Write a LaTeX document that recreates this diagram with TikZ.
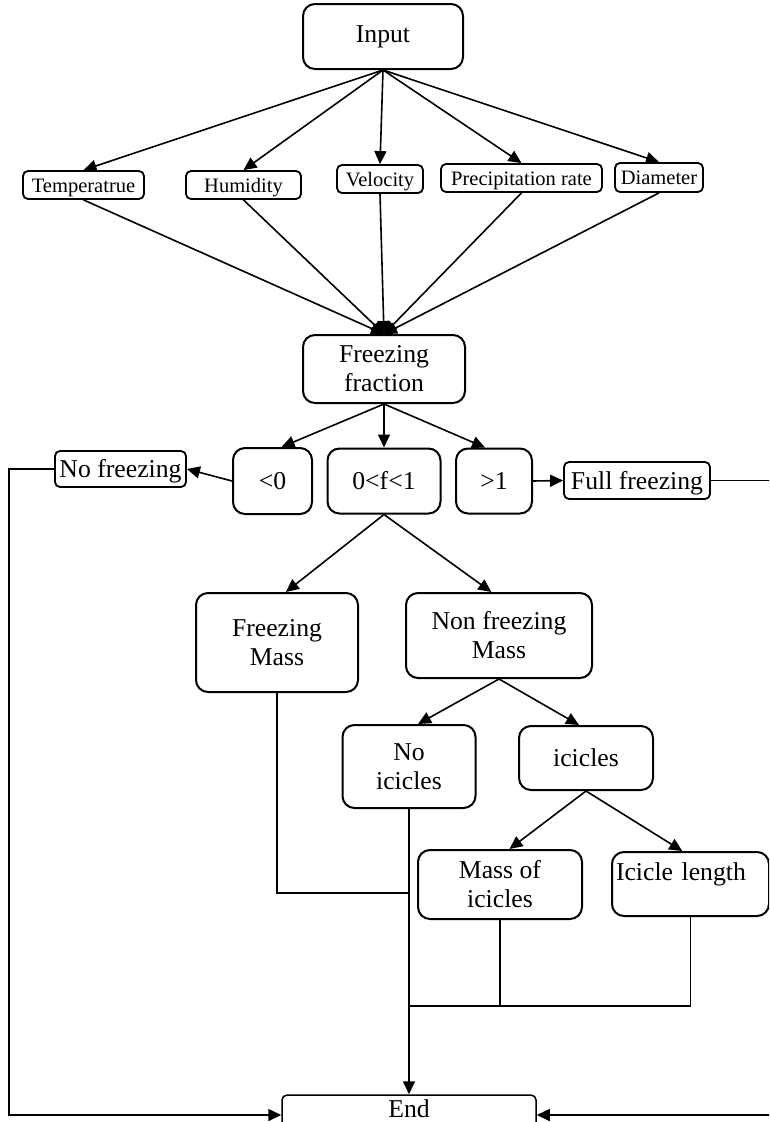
\documentclass[tikz,border=0pt]{standalone}
\usepackage{fontspec}
\setmainfont{Liberation Serif}
\usetikzlibrary{arrows.meta}

\begin{document}
\begin{tikzpicture}[x=1pt,y=-1pt,
  bigbox/.style={draw,line width=2pt,rounded corners=12pt,align=center,inner sep=2pt,font=\fontsize{25.7}{29}\selectfont},
  tagbox/.style={draw,line width=1.8pt,rounded corners=5pt,inner sep=1pt,text height=14pt,text depth=0pt,font=\fontsize{20.5}{24}\selectfont},
  flagbox/.style={tagbox,text height=17pt,font=\fontsize{25.7}{29}\selectfont},
  link/.style={line width=1.6pt,-{Triangle[length=13pt,width=12pt]}},
  wire/.style={line width=1.3pt}]
  \useasboundingbox (0,0) rectangle (769,1122);
  \clip (0,0) rectangle (769,1122);

  % input and its parameters
  \node (input) at (383,36.5) [bigbox, minimum width=160pt, minimum height=65pt] {Input};
  \node (temp) at (83.5,185) [tagbox, minimum width=121pt, minimum height=28pt] {Temperatrue};
  \node (humid) at (243.5,185) [tagbox, minimum width=115pt, minimum height=28pt] {Humidity};
  \node (velo) at (380,179) [tagbox, minimum width=86pt, minimum height=28pt] {Velocity};
  \node (precip) at (521.5,178) [tagbox, minimum width=161pt, minimum height=28pt] {Precipitation rate};
  \node (diam) at (659,177.5) [tagbox, minimum width=88pt, minimum height=29pt] {Diameter};

  \node (ffrac) at (384,369) [bigbox, minimum width=162pt, minimum height=68pt] {Freezing\\fraction};

  % ranges of f
  \node (neg) at (272.5,481) [bigbox, minimum width=79pt, minimum height=66pt] {<0};
  \node (mid) at (384,481) [bigbox, minimum width=113pt, minimum height=65pt] {0<f<1};
  \node (pos) at (494,481) [bigbox, minimum width=76pt, minimum height=65pt] {>1};
  \node (nofr) at (120.5,469) [flagbox, minimum width=131pt, minimum height=36pt] {No freezing};
  \node (full) at (637,480.5) [flagbox, minimum width=146pt, minimum height=37pt] {Full freezing};

  % partial freezing
  \node (fmass) at (277,642.5) [bigbox, minimum width=162pt, minimum height=99pt] {Freezing\\Mass};
  \node (nfmass) at (499,635.5) [bigbox, minimum width=186pt, minimum height=85pt] {Non freezing\\Mass};
  \node (noice) at (409,766.5) [bigbox, minimum width=133pt, minimum height=83pt] {No\\icicles};
  \node (ice) at (586,758) [bigbox, minimum width=134pt, minimum height=64pt] {icicles};
  \node (massice) at (500,884.5) [bigbox, minimum width=164pt, minimum height=69pt] {Mass of\\icicles};
  \node (len) at (690.5,884) [bigbox, minimum width=157pt, minimum height=64pt, align=left, text width=149pt, text height=24pt, text depth=32pt] {Icicle length};

  \node (endn) at (409,1115) [bigbox, line width=1.5pt, rounded corners=5pt, minimum width=254pt, minimum height=40pt, text depth=12pt] {End};

  % arrows
  \draw [link] (input.south) -- (temp.north);
  \draw [link] (input.south) -- (humid.north);
  \draw [link] (input.south) -- (velo.north);
  \draw [link] (input.south) -- (precip.north);
  \draw [link] (input.south) -- (diam.north);
  \draw [link] (temp.south) -- (ffrac.north);
  \draw [link] (humid.south) -- (ffrac.north);
  \draw [link] (velo.south) -- (ffrac.north);
  \draw [link] (precip.south) -- (ffrac.north);
  \draw [link] (diam.south) -- (ffrac.north);

  \draw [link] (ffrac.south) -- (neg.75);
  \draw [link] (ffrac.south) -- (mid.north);
  \draw [link] (ffrac.south) -- (pos.105);
  \draw [link] (neg.west) -- (nofr.east);
  \draw [link] (pos.east) -- (full.west);

  \draw [link] (mid.south) -- (fmass.80);
  \draw [link] (mid.south) -- (nfmass.100);
  \draw [link] (nfmass.south) -- (noice.78);
  \draw [link] (nfmass.south) -- (ice.102);
  \draw [link] (ice.south) -- (massice.75);
  \draw [link] (ice.south) -- (len.104);

  % lines to the end
  \coordinate (j1) at (409,893);
  \coordinate (j2) at (409,1006);
  \coordinate (l1) at (9,1115);
  \coordinate (r1) at (775,1115);
  \draw [wire] (fmass.south) |- (j1);
  \draw [wire] (massice.south) |- (j2);
  \draw [wire] (len.south) |- (j2);
  \draw [link] (noice.south) -- (endn.north);
  \draw [link] (nofr.west) -| (l1) -- (endn.west);
  \draw [link] (full.east) -| (r1) -- (endn.east);
\end{tikzpicture}
\end{document}
